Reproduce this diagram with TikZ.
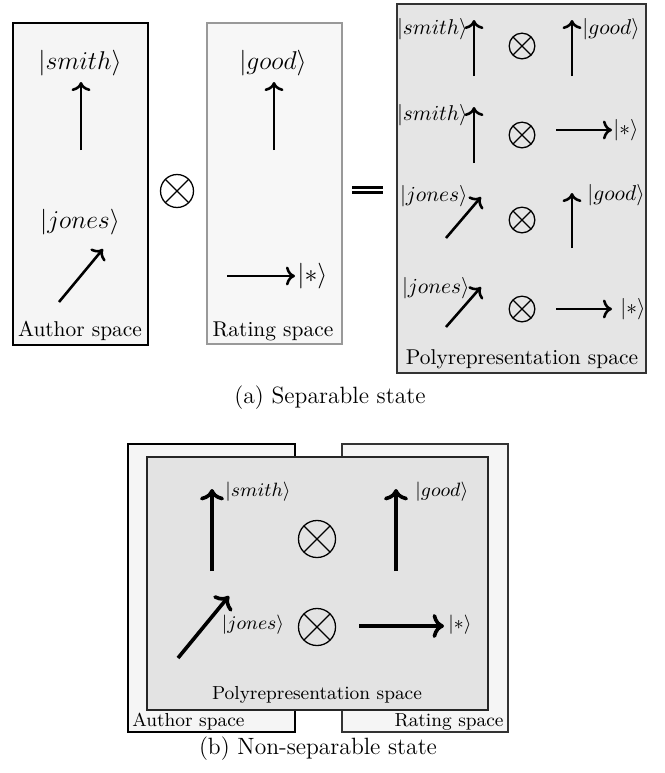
\documentclass[tikz,border=0pt]{standalone}
\usetikzlibrary{arrows.meta}
\begin{document}
\begin{tikzpicture}[x=0.467pt,y=-0.467pt,
  vec/.style={->, line width=1.2pt},
  bvec/.style={->, line width=1.7pt},
  otim/.style={circle, draw, line width=0.6pt, minimum size=#1, inner sep=0pt,
    path picture={\draw[line width=0.6pt] (path picture bounding box.north west)--(path picture bounding box.south east)
      (path picture bounding box.north east)--(path picture bounding box.south west);}},
  lbl/.style={inner sep=0pt, font=\fontsize{10}{12}\selectfont},
  blbl/.style={inner sep=0pt, font=\fontsize{8.8}{10}\selectfont},
  kL/.style={inner sep=0pt, font=\fontsize{12.3}{14}\selectfont},
  kM/.style={inner sep=0pt, font=\fontsize{10}{12}\selectfont},
  kS/.style={inner sep=0pt, font=\fontsize{8.8}{10}\selectfont},
  capt/.style={inner sep=0pt, font=\fontsize{11}{13}\selectfont},
]
\useasboundingbox (0,0) rectangle (665,773);
% ---------- (a) ----------
\draw[fill=black!4, line width=0.6pt] (13,23) rectangle (148,345);
\draw[fill=black!3, draw=black!40, line width=0.6pt] (207,23) rectangle (342,344);
\draw[fill=black!10, draw=black!80, line width=0.6pt] (397,4) rectangle (646,373);

% Author space
\node[kL] (sm) at (80,63) {$|smith\rangle$};
\coordinate (sms) at (81,150); \coordinate (sme) at (81,82);
\draw[vec] (sms) -- (sme);
\node[kL] (jo) at (80,222) {$|jones\rangle$};
\coordinate (jos) at (59,302); \coordinate (joe) at (103,249);
\draw[vec] (jos) -- (joe);
\node[lbl] (as) at (80,331) {Author space};

\node[otim=15.4pt] (o0) at (177,191) {};

% Rating space
\node[kL] (gd) at (273,63) {$|good\rangle$};
\coordinate (gds) at (274,150); \coordinate (gde) at (274,82);
\draw[vec] (gds) -- (gde);
\coordinate (sts) at (227,276); \coordinate (ste) at (295,276);
\draw[vec] (sts) -- (ste);
\node[kL, anchor=west] (st) at (297,276) {$|{*}\rangle$};
\node[lbl] (rs) at (273,331) {Rating space};

% equals
\coordinate (e1) at (352,187); \coordinate (e2) at (383,187);
\coordinate (e3) at (352,192); \coordinate (e4) at (383,192);
\draw[line width=1.4pt] (e1) -- (e2) (e3) -- (e4);

% Polyrepresentation (a)
% row 1
\node[kM, anchor=east] (r1a) at (468,29) {$|smith\rangle$};
\coordinate (r1as) at (474,76); \coordinate (r1ae) at (474,20);
\draw[vec] (r1as) -- (r1ae);
\node[otim=12pt] (o1) at (522,46) {};
\coordinate (r1bs) at (572,76); \coordinate (r1be) at (572,20);
\draw[vec] (r1bs) -- (r1be);
\node[kM, anchor=west] (r1b) at (582,29) {$|good\rangle$};
% row 2
\node[kM, anchor=east] (r2a) at (468,115) {$|smith\rangle$};
\coordinate (r2as) at (474,163); \coordinate (r2ae) at (474,107);
\draw[vec] (r2as) -- (r2ae);
\node[otim=12pt] (o2) at (522,135) {};
\coordinate (r2bs) at (556,130); \coordinate (r2be) at (612,130);
\draw[vec] (r2bs) -- (r2be);
\node[kM, anchor=west] (r2b) at (613,130) {$|{*}\rangle$};
% row 3
\node[kM, anchor=east] (r3a) at (468,196) {$|jones\rangle$};
\coordinate (r3as) at (446,238); \coordinate (r3ae) at (481,197);
\draw[vec] (r3as) -- (r3ae);
\node[otim=12pt] (o3) at (522,220) {};
\coordinate (r3bs) at (572,248); \coordinate (r3be) at (572,193);
\draw[vec] (r3bs) -- (r3be);
\node[kM, anchor=west] (r3b) at (587,195) {$|good\rangle$};
% row 4
\node[kM, anchor=east] (r4a) at (470,288) {$|jones\rangle$};
\coordinate (r4as) at (446,327); \coordinate (r4ae) at (481,287);
\draw[vec] (r4as) -- (r4ae);
\node[otim=12pt] (o4) at (522,309) {};
\coordinate (r4bs) at (556,309); \coordinate (r4be) at (612,309);
\draw[vec] (r4bs) -- (r4be);
\node[kM, anchor=west] (r4b) at (620,309) {$|{*}\rangle$};

\node[lbl] (ps) at (522,359) {Polyrepresentation space};

\node[capt] (capa) at (330,398) {(a) Separable state};

% ---------- (b) ----------
\draw[fill=black!4, line width=0.6pt] (128,444) rectangle (295,732);
\draw[fill=black!4, draw=black!80, line width=0.6pt] (342,444) rectangle (508,732);
\draw[fill=black!11, draw=black!85, line width=0.6pt] (147,457) rectangle (488,710);

\coordinate (bs1s) at (212,571); \coordinate (bs1e) at (212,489);
\draw[bvec] (bs1s) -- (bs1e);
\node[kS, anchor=west] (bsm) at (225,492) {$|smith\rangle$};
\node[otim=17.3pt] (bo1) at (317,539) {};
\coordinate (bg1s) at (396,571); \coordinate (bg1e) at (396,489);
\draw[bvec] (bg1s) -- (bg1e);
\node[kS, anchor=west] (bgd) at (415,492) {$|good\rangle$};

\coordinate (bj1s) at (178,658); \coordinate (bj1e) at (229,596);
\draw[bvec] (bj1s) -- (bj1e);
\node[kS] (bjo) at (253,625) {$|jones\rangle$};
\node[otim=17.3pt] (bo2) at (317,627) {};
\coordinate (bx1s) at (359,626); \coordinate (bx1e) at (444,626);
\draw[bvec] (bx1s) -- (bx1e);
\node[kS, anchor=west] (bst) at (448,625) {$|{*}\rangle$};

\node[blbl] (bps) at (317,695) {Polyrepresentation space};
\node[blbl, anchor=west] (bas) at (132,722) {Author space};
\node[blbl, anchor=east] (brs) at (504,722) {Rating space};

\node[capt] (capb) at (318,749) {(b) Non-separable state};
\end{tikzpicture}
\end{document}
